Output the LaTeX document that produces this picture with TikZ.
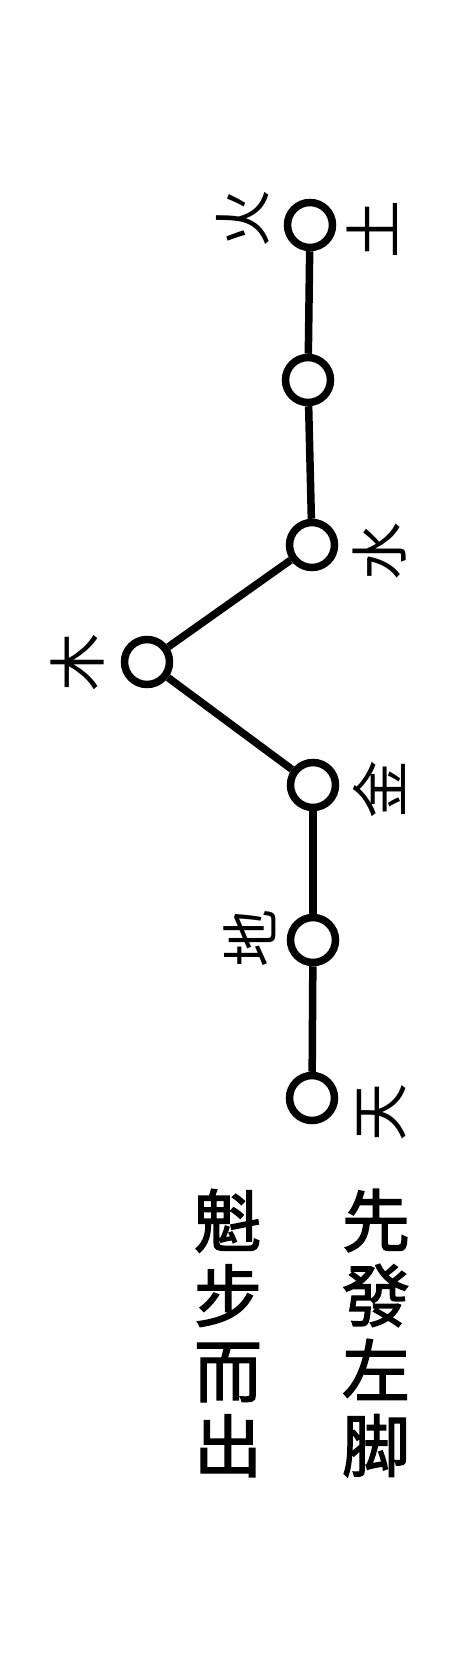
\documentclass[tikz,border=0pt]{standalone}
\usepackage{fontspec}
\newfontfamily\cjk{Noto Sans CJK TC}
\newfontfamily\cjkbold{Noto Sans CJK TC}[FakeBold=2]

\begin{document}
\begin{tikzpicture}[
x=1pt, y=-1pt,
star/.style={circle, draw, line width=7.5pt, fill=white, minimum size=45pt, inner sep=0pt},
link/.style={line width=7.5pt},
tag/.style={font={\cjk\fontsize{58}{58}\selectfont}, rotate=90, inner sep=0pt},
verse/.style={font={\cjkbold\fontsize{68}{75}\selectfont}, align=center, inner sep=0pt}
]
\useasboundingbox (0,0) rectangle (475,1669);

% Define nodes
\node (tu) [star] at (310,225) {};
\node (mid) [star] at (308,380) {};
\node (shui) [star] at (312,545) {};
\node (mu) [star] at (147,662) {};
\node (jin) [star] at (313,785) {};
\node (di) [star] at (313,940) {};
\node (tian) [star] at (312,1098) {};

% Links
\draw [link] (tu) -- (mid);
\draw [link] (mid) -- (shui);
\draw [link] (shui) -- (mu);
\draw [link] (mu) -- (jin);
\draw [link] (jin) -- (di);
\draw [link] (di) -- (tian);

% Labels
\node (tu_lbl) [tag] at (372,230) {土};
\node (huo_lbl) [tag] at (243,219) {火};
\node (shui_lbl) [tag] at (380,551) {水};
\node (mu_lbl) [tag] at (77,662) {木};
\node (jin_lbl) [tag] at (379,789) {金};
\node (di_lbl) [tag] at (250,938) {地};
\node (tian_lbl) [tag] at (382,1112) {天};

% Verse
\node (verse_right) [verse] at (376,1333) {先\\發\\左\\脚};
\node (verse_left) [verse] at (228,1333) {魁\\步\\而\\出};

\end{tikzpicture}
\end{document}
